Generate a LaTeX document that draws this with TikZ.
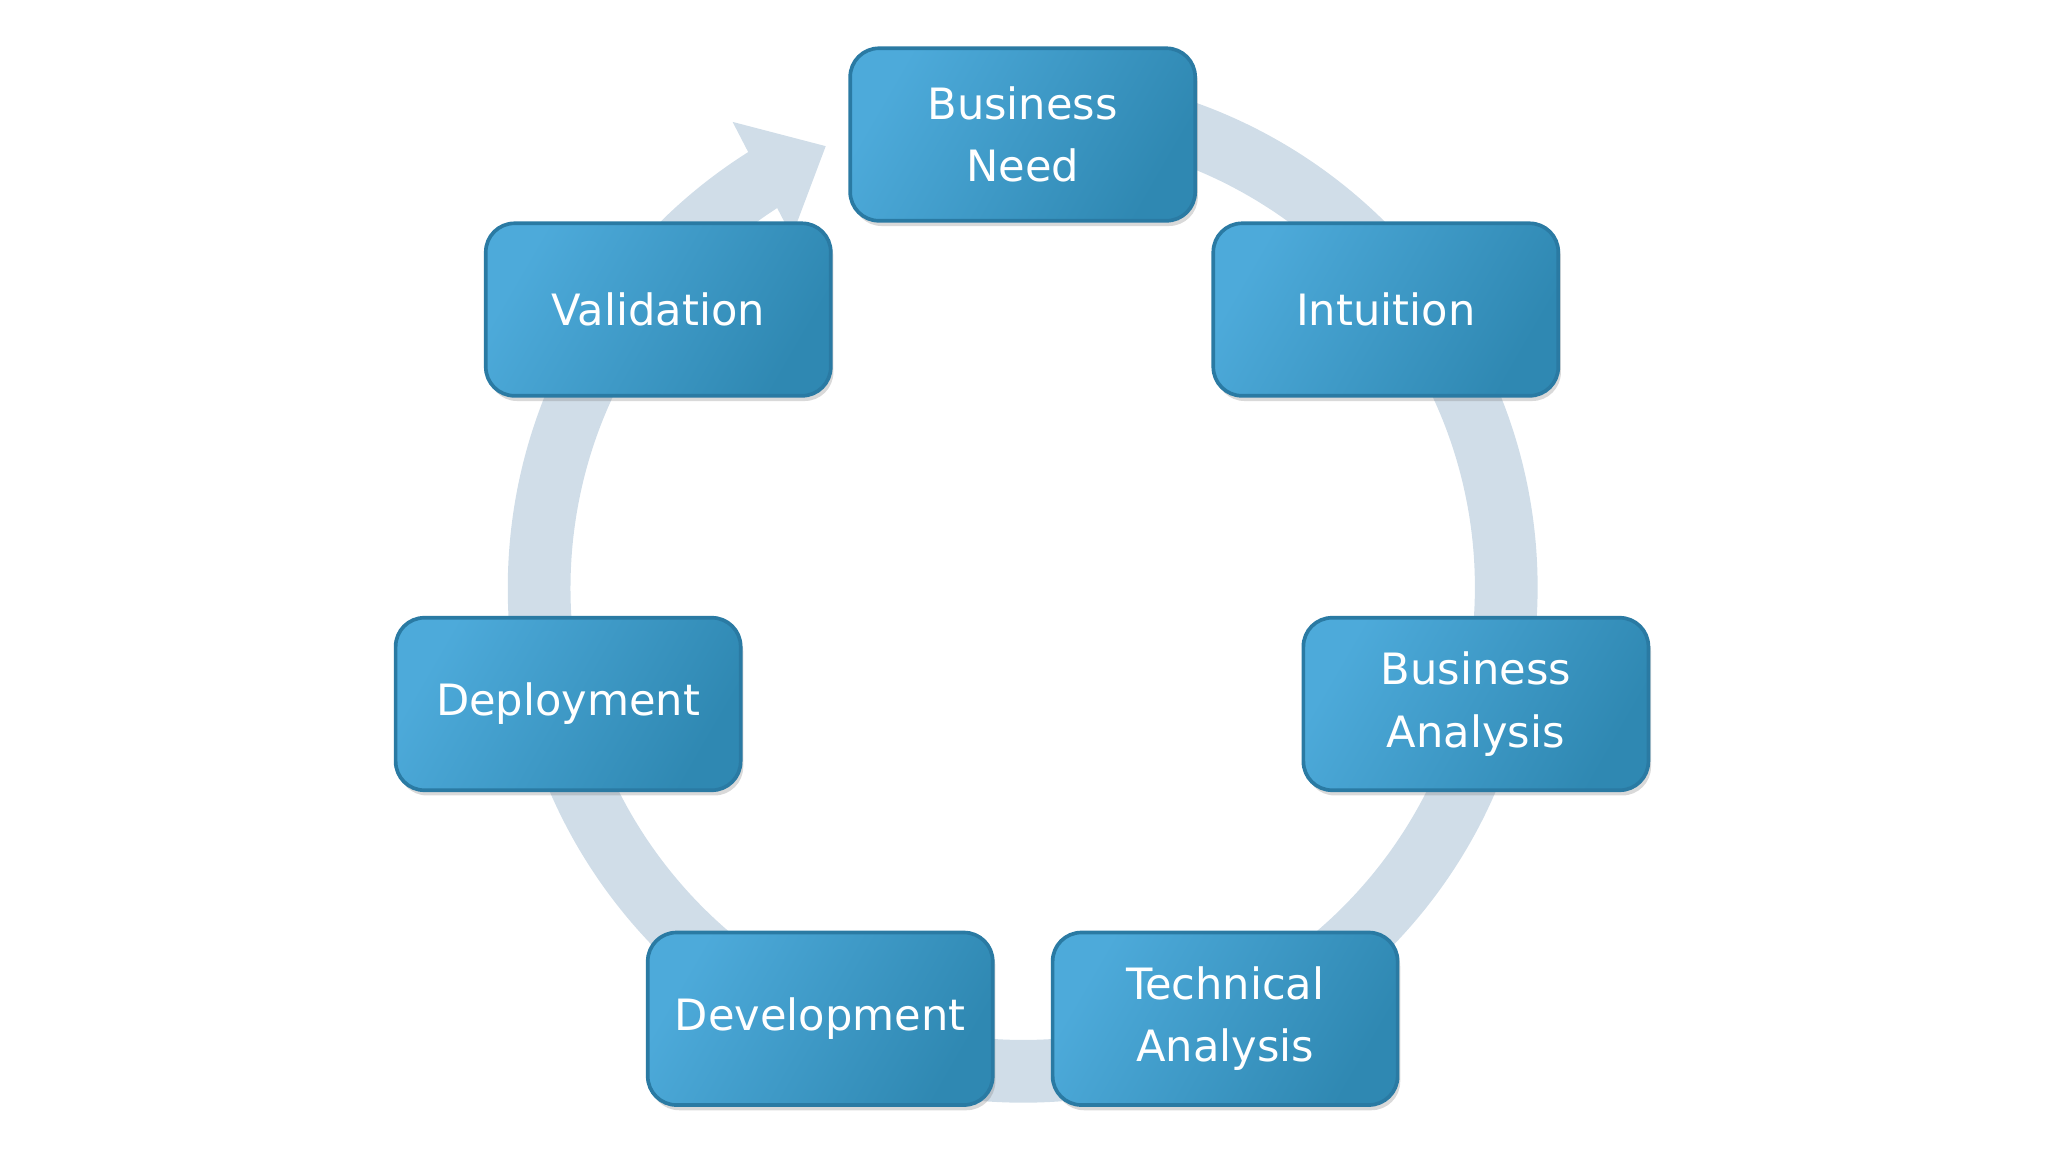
\documentclass[tikz,border=0pt]{standalone}
\usepackage{fontspec}
\setmainfont{DejaVu Sans}
\usetikzlibrary{arrows.meta,shadows,bending}
\definecolor{ringc}{HTML}{D0DDE8}
\definecolor{boxl}{HTML}{4DAADA}
\definecolor{boxr}{HTML}{2F88B2}
\definecolor{boxe}{HTML}{2A7AA3}
\begin{document}
\begin{tikzpicture}[x=0.01cm,y=-0.01cm,
  stepbox/.style={draw=boxe,line width=0.8pt,rounded corners=0.22cm,minimum width=2.64cm,minimum height=1.32cm,
    left color=boxl,right color=boxr,shading angle=60,text=white,align=center,
    font=\fontsize{9.4}{13.6}\selectfont,
    drop shadow={shadow xshift=0.02cm,shadow yshift=-0.04cm,opacity=0.3}},
  ring/.style={draw=ringc,line width=0.48cm}]
\useasboundingbox (0,0) rectangle (1568,882);
\coordinate (c) at (783,450);
\draw[ring,-{Triangle[width=0.95cm,length=0.55cm,flex=0.8]}] (c) ++(85:3.7cm) arc[start angle=85,end angle=-246,radius=3.7cm];
\node[stepbox] (bn) at (783,103) {Business\\Need};
\node[stepbox] (in) at (1061,237) {Intuition};
\node[stepbox] (ba) at (1130,539) {Business\\Analysis};
\node[stepbox] (ta) at (938,780) {Technical\\Analysis};
\node[stepbox] (dv) at (628,780) {Development};
\node[stepbox] (dp) at (435,539) {Deployment};
\node[stepbox] (va) at (504,237) {Validation};
\end{tikzpicture}
\end{document}
